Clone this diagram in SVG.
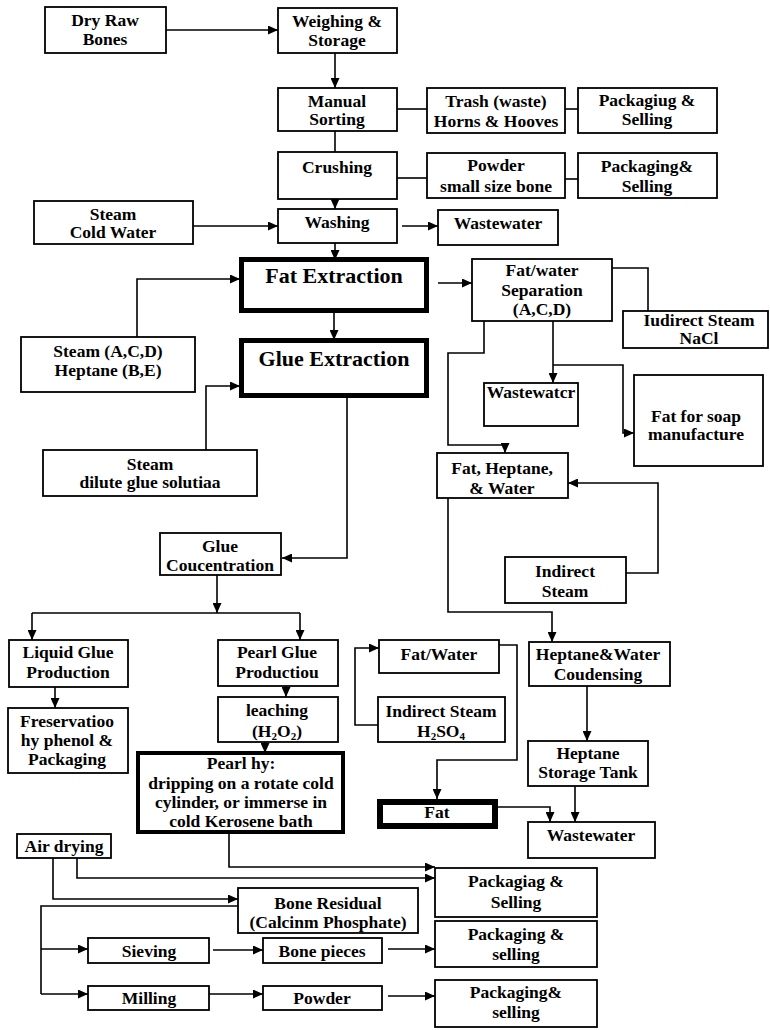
<svg xmlns="http://www.w3.org/2000/svg" width="770" height="1030" viewBox="0 0 770 1030">
<defs>
<marker id="ah" markerUnits="userSpaceOnUse" markerWidth="10" markerHeight="9" refX="10" refY="4.5" orient="auto">
<path d="M0,0 L10,4.5 L0,9 z" fill="#000"/>
</marker>
<style>
.b{fill:#fff;stroke:#000;stroke-width:1.8}
text{font-family:"Liberation Serif","Times New Roman",serif;font-weight:bold;font-size:17.5px;text-anchor:middle;fill:#000}
.big{font-size:22px}
.c{fill:none;stroke:#000;stroke-width:1.6}
.a{marker-end:url(#ah)}
.s{font-size:11px}
</style>
</defs>
<rect width="770" height="1030" fill="#fff"/>
<g id="connectors">
<path class="c a" d="M166,30 H278"/>
<path class="c a" d="M335,53 V88"/>
<path class="c" d="M335,131 V152"/>
<path class="c a" d="M335,180 V209"/>
<path class="c a" d="M193,226 H278"/>
<path class="c" d="M397,109 H427"/>
<path class="c" d="M565,109 H578"/>
<path class="c" d="M397,178 H427"/>
<path class="c" d="M565,179 H578"/>
<path class="c a" d="M402,226 H438"/>
<path class="c a" d="M335,243 V260"/>
<path class="c a" d="M137,337 V279 H240"/>
<path class="c a" d="M334,313 V340"/>
<path class="c a" d="M206,450 V386 H240"/>
<path class="c a" d="M347,398 V558 H282"/>
<path class="c a" d="M217,575 V613"/>
<path class="c" d="M32,613 H300"/>
<path class="c a" d="M32,613 V640"/>
<path class="c a" d="M300,613 V640"/>
<path class="c a" d="M55,687 V708"/>
<path class="c a" d="M286,678 V697"/>
<path class="c a" d="M265,742 V753"/>
<path class="c a" d="M438,283 H472"/>
<path class="c" d="M612,268 H648 V311"/>
<path class="c a" d="M553,321 V383"/>
<path class="c a" d="M553,365 H623 V433 H634"/>
<path class="c a" d="M484,321 V353 H448 V445 H505 V453"/>
<path class="c a" d="M626,573 H658 V483 H568"/>
<path class="c a" d="M448,498 V612 H552 V642"/>
<path class="c a" d="M587,686 V741"/>
<path class="c a" d="M575,786 V822"/>
<path class="c a" d="M378,725 H355 V648 H379"/>
<path class="c a" d="M499,645 H517 V760 H437 V799"/>
<path class="c a" d="M498,807 H550 V822"/>
<path class="c a" d="M229,834 V867 H435"/>
<path class="c a" d="M77,858 V878 H435"/>
<path class="c a" d="M53,858 V899 H238"/>
<path class="c" d="M41,994 V906 H238"/>
<path class="c a" d="M41,949 H88"/>
<path class="c a" d="M41,994 H88"/>
<path class="c a" d="M213,950 H263"/>
<path class="c a" d="M388,949 H435"/>
<path class="c a" d="M209,994 H263"/>
<path class="c a" d="M388,996 H435"/>
</g>
<g id="n-dry-raw-bones"><rect class="b" x="45" y="7" width="121" height="46"/><text x="105" y="26">Dry Raw</text><text x="105" y="45">Bones</text></g>
<g id="n-weighing"><rect class="b" x="278" y="8" width="119" height="45"/><text x="337" y="27">Weighing &amp;</text><text x="337" y="46">Storage</text></g>
<g id="n-manual-sorting"><rect class="b" x="278" y="88" width="119" height="43"/><text x="337" y="107">Manual</text><text x="337" y="125">Sorting</text></g>
<g id="n-crushing"><rect class="b" x="278" y="152" width="119" height="47"/><text x="337" y="173">Crushing</text></g>
<g id="n-washing"><rect class="b" x="278" y="209" width="119" height="34"/><text x="337" y="228">Washing</text></g>
<g id="n-steam-cold"><rect class="b" x="34" y="201" width="159" height="43"/><text x="113" y="220">Steam</text><text x="113" y="238">Cold Water</text></g>
<g id="n-trash"><rect class="b" x="427" y="88" width="138" height="45"/><text x="496" y="107">Trash (waste)</text><text x="496" y="127">Horns &amp; Hooves</text></g>
<g id="n-pack1"><rect class="b" x="578" y="88" width="139" height="45"/><text x="647" y="106">Packagiug &amp;</text><text x="647" y="125">Selling</text></g>
<g id="n-powder-small"><rect class="b" x="427" y="153" width="138" height="45"/><text x="496" y="171">Powder</text><text x="496" y="192">small size bone</text></g>
<g id="n-pack2"><rect class="b" x="578" y="153" width="139" height="45"/><text x="647" y="172">Packaging&amp;</text><text x="647" y="192">Selling</text></g>
<g id="n-wastewater1"><rect class="b" x="438" y="210" width="120" height="35"/><text x="498" y="229">Wastewater</text></g>
<g id="n-fat-extraction"><rect class="b" style="stroke-width:5" x="241.5" y="259.5" width="185" height="51"/><text class="big" x="334" y="283">Fat Extraction</text></g>
<g id="n-glue-extraction"><rect class="b" style="stroke-width:5" x="241.5" y="340.5" width="185" height="55"/><text class="big" x="334" y="366">Glue Extraction</text></g>
<g id="n-steam-acd"><rect class="b" x="21" y="337" width="174" height="55"/><text x="108" y="357">Steam (A,C,D)</text><text x="108" y="376">Heptane (B,E)</text></g>
<g id="n-steam-dilute"><rect class="b" x="43" y="450" width="214" height="46"/><text x="150" y="470">Steam</text><text x="150" y="488">dilute glue solutiaa</text></g>
<g id="n-glue-conc"><rect class="b" x="160" y="533" width="121" height="42"/><text x="220" y="552">Glue</text><text x="220" y="571">Coucentration</text></g>
<g id="n-liquid-glue"><rect class="b" x="9" y="640" width="119" height="47"/><text x="68" y="658">Liquid Glue</text><text x="68" y="678">Production</text></g>
<g id="n-pearl-glue"><rect class="b" x="218" y="640" width="120" height="46"/><text x="277" y="658">Pearl Glue</text><text x="277" y="678">Productiou</text></g>
<g id="n-freservation"><rect class="b" x="8" y="708" width="120" height="65"/><text x="67" y="727">Freservatioo</text><text x="67" y="746">hy phenol &amp;</text><text x="67" y="765">Packaging</text></g>
<g id="n-leaching"><rect class="b" x="218" y="697" width="120" height="45"/><text x="277" y="716">leaching</text><text x="277" y="737">(H<tspan class="s" dy="3">2</tspan><tspan dy="-3">O</tspan><tspan class="s" dy="3">2</tspan><tspan dy="-3">)</tspan></text></g>
<g id="n-pearl-by"><rect class="b" style="stroke-width:4" x="138" y="753" width="205" height="79"/><text x="241" y="769">Pearl hy:</text><text x="241" y="789">dripping on a rotate cold</text><text x="241" y="808">cylinder, or immerse in</text><text x="241" y="827">cold Kerosene bath</text></g>
<g id="n-fatwater-sep"><rect class="b" x="472" y="259" width="140" height="62"/><text x="542" y="276">Fat/water</text><text x="542" y="296">Separation</text><text x="542" y="315">(A,C,D)</text></g>
<g id="n-indirect-nacl"><rect class="b" x="623" y="311" width="145" height="37"/><text x="699" y="326">Iudirect Steam</text><text x="699" y="344">NaCl</text></g>
<g id="n-wastewater2"><rect class="b" x="484" y="383" width="94" height="43"/><text x="531" y="398">Wastewatcr</text></g>
<g id="n-fat-soap"><rect class="b" x="634" y="375" width="129" height="91"/><text x="696" y="422">Fat for soap</text><text x="696" y="440">manufacture</text></g>
<g id="n-fat-heptane"><rect class="b" x="437" y="453" width="131" height="45"/><text x="502" y="474">Fat, Heptane,</text><text x="502" y="494">&amp; Water</text></g>
<g id="n-indirect-steam"><rect class="b" x="505" y="557" width="121" height="46"/><text x="565" y="577">Indirect</text><text x="565" y="597">Steam</text></g>
<g id="n-fat-water"><rect class="b" x="379" y="640" width="120" height="33"/><text x="439" y="660">Fat/Water</text></g>
<g id="n-indirect-h2so4"><rect class="b" x="378" y="697" width="127" height="45"/><text x="441" y="717">Indirect Steam</text><text x="441" y="737">H<tspan class="s" dy="3">2</tspan><tspan dy="-3">SO</tspan><tspan class="s" dy="3">4</tspan></text></g>
<g id="n-heptane-cond"><rect class="b" x="529" y="642" width="141" height="44"/><text x="598" y="660">Heptane&amp;Water</text><text x="598" y="680">Coudensing</text></g>
<g id="n-heptane-tank"><rect class="b" x="528" y="741" width="120" height="45"/><text x="588" y="759">Heptane</text><text x="588" y="778">Storage Tank</text></g>
<g id="n-fat"><rect class="b" style="stroke-width:6" x="380" y="802" width="115" height="24"/><text x="437" y="818">Fat</text></g>
<g id="n-wastewater3"><rect class="b" x="528" y="822" width="127" height="36"/><text x="591" y="841">Wastewater</text></g>
<g id="n-air-drying"><rect class="b" x="17" y="834" width="94" height="24"/><text x="64" y="852">Air drying</text></g>
<g id="n-bone-residual"><rect class="b" x="238" y="888" width="180" height="45"/><text x="328" y="909">Bone Residual</text><text x="328" y="928">(Calcinm Phosphate)</text></g>
<g id="n-sieving"><rect class="b" x="88" y="938" width="121" height="25"/><text x="149" y="957">Sieving</text></g>
<g id="n-bone-pieces"><rect class="b" x="263" y="938" width="119" height="25"/><text x="322" y="957">Bone pieces</text></g>
<g id="n-milling"><rect class="b" x="88" y="986" width="121" height="24"/><text x="149" y="1004">Milling</text></g>
<g id="n-powder"><rect class="b" x="263" y="986" width="119" height="24"/><text x="322" y="1004">Powder</text></g>
<g id="n-pack3"><rect class="b" x="435" y="868" width="162" height="49"/><text x="516" y="887">Packagiag &amp;</text><text x="516" y="908">Selling</text></g>
<g id="n-pack4"><rect class="b" x="435" y="921" width="162" height="46"/><text x="516" y="940">Packaging &amp;</text><text x="516" y="960">selling</text></g>
<g id="n-pack5"><rect class="b" x="435" y="980" width="162" height="47"/><text x="516" y="998">Packaging&amp;</text><text x="516" y="1018">selling</text></g>
</svg>
